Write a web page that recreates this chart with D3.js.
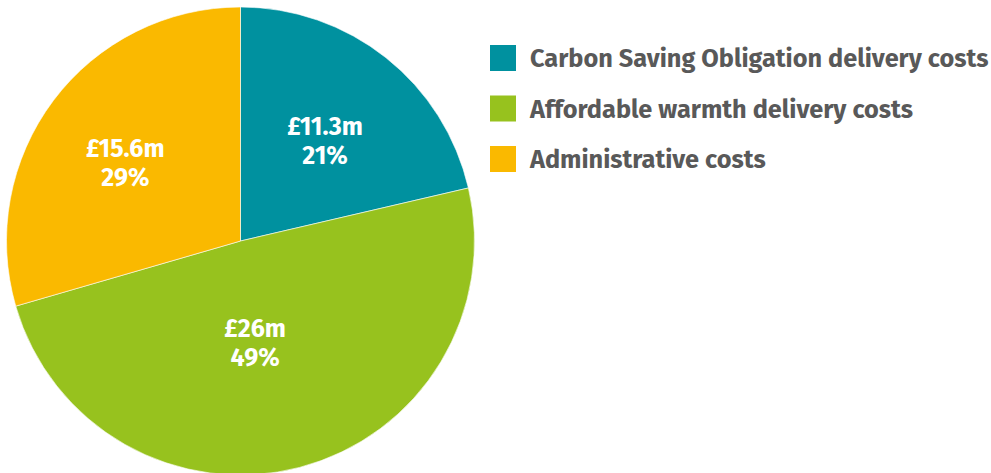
<!DOCTYPE html>
<html><head><meta charset="utf-8">
<script src="https://cdn.jsdelivr.net/npm/d3@7"></script>
<style>body{margin:0;background:#fff}svg{display:block}</style>
</head><body>
<svg id="c" width="991" height="473"></svg>
<script>
const categories = ["Carbon Saving Obligation delivery costs", "Affordable warmth delivery costs", "Administrative costs"];
const values = [11.3, 26, 15.6];
const valueLabels = ["£11.3m", "£26m", "£15.6m"];
const percentLabels = ["21%", "49%", "29%"];
const colors = ["#00919F", "#97C21E", "#FAB900"];
const labelRadius = [134, 100, 141];
const labelAngleShift = [0.7, 6.2, -1.7];

const svg = d3.select("#c");
const cx = 240.5, cy = 241, R = 234;
const g = svg.append("g").attr("transform", `translate(${cx},${cy})`);
const pie = d3.pie().sort(null).value(d => d)(values);
const arc = d3.arc().innerRadius(0).outerRadius(R);
g.selectAll("path").data(pie).join("path")
  .attr("d", arc).attr("fill", (d, i) => colors[i])
  .attr("stroke", "#fff").attr("stroke-width", 0.6);

const font = "'Fira Sans','Open Sans','Noto Sans',sans-serif";
pie.forEach((d, i) => {
  const mid = (d.startAngle + d.endAngle) / 2 + labelAngleShift[i] * Math.PI / 180;
  const la = d3.arc().innerRadius(labelRadius[i]).outerRadius(labelRadius[i]);
  const [x, y] = la.centroid({startAngle: mid, endAngle: mid});
  const t = g.append("text").attr("x", x).attr("y", y).attr("text-anchor", "middle")
    .attr("fill", "#fff").attr("font-family", font).attr("font-weight", 700).attr("font-size", 25);
  t.append("tspan").attr("x", x).attr("dy", "-0.1em").text(valueLabels[i]);
  t.append("tspan").attr("x", x).attr("dy", "1.16em").text(percentLabels[i]);
});

const leg = svg.append("g").attr("transform", "translate(490,45)");
categories.forEach((c, i) => {
  const row = leg.append("g").attr("transform", `translate(0,${i * 50.5})`);
  row.append("rect").attr("width", 26).attr("height", 26).attr("fill", colors[i]);
  row.append("text").attr("x", 40).attr("y", 22).attr("fill", "#595959")
    .attr("font-family", font).attr("font-weight", 700).attr("font-size", 25.3).text(c);
});
</script>
</body></html>
